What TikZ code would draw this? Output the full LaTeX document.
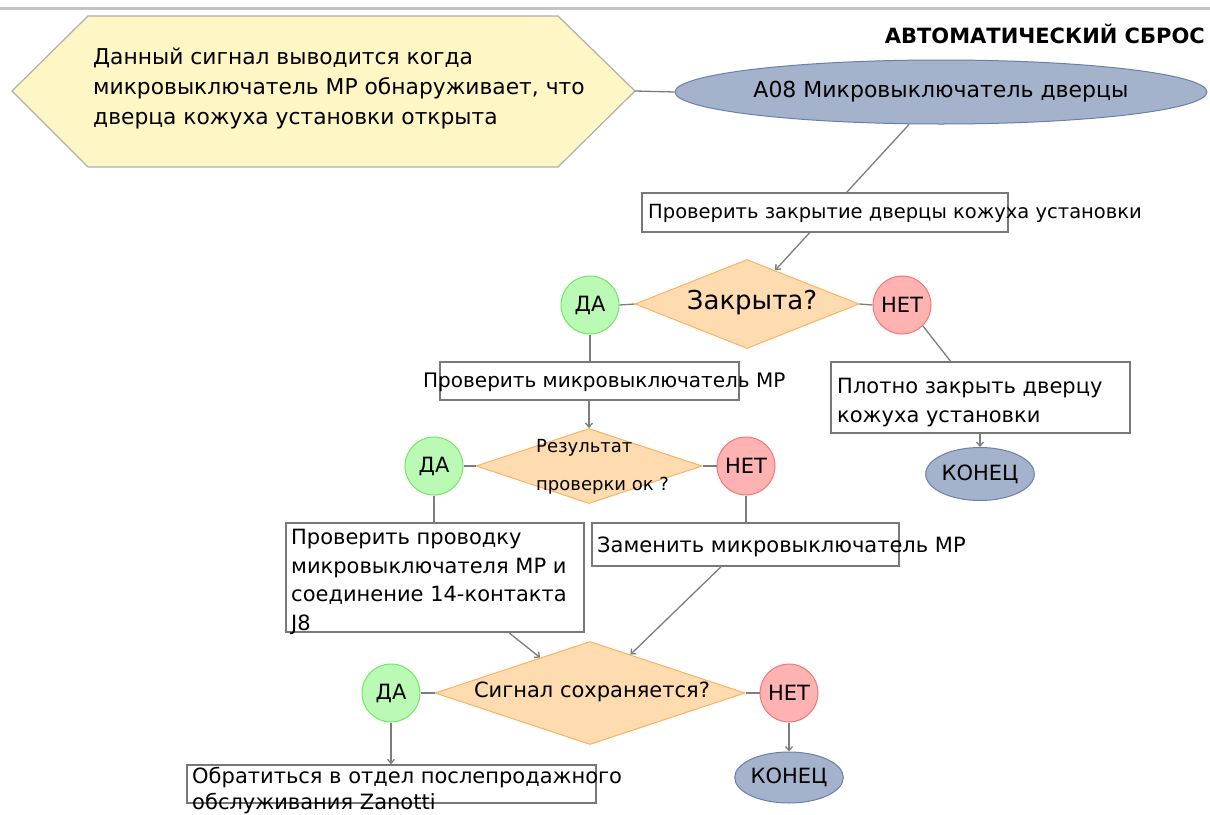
\documentclass[tikz,border=0pt]{standalone}
\usepackage{fontspec}
\setmainfont{DejaVu Sans}
\usetikzlibrary{shapes.geometric,arrows.meta,calc}
\definecolor{hexfill}{RGB}{254,246,196}
\definecolor{hexline}{RGB}{175,175,175}
\definecolor{ellfill}{RGB}{164,178,204}
\definecolor{ellline}{RGB}{105,128,170}
\definecolor{diafill}{RGB}{254,220,176}
\definecolor{dialine}{RGB}{250,178,98}
\definecolor{yesfill}{RGB}{186,250,180}
\definecolor{yesline}{RGB}{110,232,100}
\definecolor{nofill}{RGB}{254,178,178}
\definecolor{noline}{RGB}{242,118,118}
\definecolor{conn}{RGB}{125,125,125}
\definecolor{boxline}{RGB}{120,120,120}
\definecolor{topline}{RGB}{195,195,195}
\begin{document}
\begin{tikzpicture}[x=1pt,y=-1pt,
  txt/.style={font=\fontsize{21}{29.5}\selectfont, inner sep=0pt, align=left},
  boxnode/.style={rectangle, draw=boxline, line width=1.6pt, fill=white, inner sep=0pt},
  decision/.style={diamond, draw=dialine, fill=diafill, line width=1pt, inner sep=0pt},
  yesnode/.style={circle, draw=yesline, fill=yesfill, line width=1pt, minimum size=58pt, inner sep=0pt, font=\fontsize{21}{25}\selectfont},
  nonode/.style={circle, draw=noline, fill=nofill, line width=1pt, minimum size=58pt, inner sep=0pt, font=\fontsize{21}{25}\selectfont},
  term/.style={ellipse, draw=ellline, fill=ellfill, line width=1pt, inner sep=0pt, font=\fontsize{21}{25}\selectfont},
  conline/.style={draw=conn, line width=1.3pt},
  arr/.style={conline, -{Straight Barb[length=4pt,width=7pt]}}
]
\useasboundingbox (0,0) rectangle (1210,814);
\fill[white] (0,0) rectangle (1210,814);
\draw[topline, line width=3pt] (0,8) -- (1210,8);

% title
\node[inner sep=0pt, anchor=east, font=\bfseries\fontsize{21}{25}\selectfont] (title) at (1205,34) {АВТОМАТИЧЕСКИЙ СБРОС};

% hexagon description
\draw[draw=hexline, fill=hexfill, line width=1.2pt] (12,91) -- (88,16) -- (558,16) -- (635,91) -- (558,167) -- (88,167) -- cycle;
\coordinate (hexR) at (635,91);
\node[txt, anchor=west, font=\fontsize{21.8}{30}\selectfont] (hextext) at (93,88) {Данный сигнал выводится когда\\микровыключатель МР обнаруживает, что\\дверца кожуха установки открыта};

% start
\node[term, minimum width=532pt, minimum height=64pt, font=\fontsize{22}{25}\selectfont] (start) at (941,92) {А08 Микровыключатель дверцы};
\draw[conline] (hexR) -- (start.west);

% decision 1
\node[decision, minimum width=224pt, minimum height=89pt] (d1) at (747,304) {};
\node[inner sep=0pt, font=\fontsize{26}{30}\selectfont] (d1t) at (752,303) {Закрыта?};
\draw[arr] ([xshift=-32pt]start.south) -- ($(d1.north)!0.25!(d1.east)$);

% box 1 (drawn over the connector)
\node[boxnode, minimum width=366pt, minimum height=39pt] (b1) at (825,212.5) {};
\node[txt, anchor=west, font=\fontsize{19.5}{25}\selectfont] (t1) at (648,213) {Проверить закрытие дверцы кожуха установки};

\node[yesnode] (y1) at (590,305) {ДА};
\node[nonode] (n1) at (902,305) {НЕТ};
\draw[conline] (y1.east) -- (d1.west);
\draw[conline] (d1.east) -- (n1.west);

% box 2
\node[boxnode, minimum width=299pt, minimum height=38pt] (b2) at (589.5,381) {};
\node[txt, anchor=west, font=\fontsize{20}{25}\selectfont] (t2) at (423,382) {Проверить микровыключатель МР};
\draw[conline] (y1.south) -- (y1.south |- b2.north);

% box 3
\node[boxnode, minimum width=299pt, minimum height=71pt] (b3) at (980.5,397.5) {};
\node[txt, anchor=west, font=\fontsize{21}{29}\selectfont] (t3) at (837,403) {Плотно закрыть дверцу\\кожуха установки};
\draw[conline] (n1.south east) -- ([xshift=-30pt]b3.north);
\node[term, minimum width=106pt, minimum height=53pt] (k1) at (980,474) {КОНЕЦ};
\draw[arr] (b3.south -| k1.north) -- (k1.north);

% decision 2
\node[decision, minimum width=226pt, minimum height=75pt] (d2) at (589,466) {};
\node[txt, anchor=west, font=\fontsize{18}{38}\selectfont] (d2t) at (536,467) {Результат\\проверки ок ?};
\draw[arr] (b2.south -| d2.north) -- (d2.north);
\node[yesnode] (y2) at (434,466) {ДА};
\node[nonode] (n2) at (746,466) {НЕТ};
\draw[conline] (y2.east) -- (d2.west);
\draw[conline] (d2.east) -- (n2.west);

% box 4
\node[boxnode, minimum width=298pt, minimum height=109pt] (b4) at (435,577.5) {};
\node[txt, anchor=west, font=\fontsize{21}{28.5}\selectfont] (t4) at (291,582) {Проверить проводку\\микровыключателя МР и\\соединение 14-контакта\\J8};
\draw[conline] (y2.south) -- (y2.south |- b4.north);

% box 5
\node[boxnode, minimum width=307pt, minimum height=43pt] (b5) at (745.5,544.5) {};
\node[txt, anchor=west] (t5) at (597,547) {Заменить микровыключатель МР};
\draw[conline] (n2.south) -- (n2.south |- b5.north);

% decision 3
\node[decision, minimum width=310pt, minimum height=103pt] (d3) at (590,693) {};
\node[inner sep=0pt, font=\fontsize{21}{25}\selectfont] (d3t) at (592,692) {Сигнал сохраняется?};
\draw[arr] ([xshift=74pt]b4.south) -- ($(d3.north)!0.32!(d3.west)$);
\draw[arr] ([xshift=-24.5pt]b5.south) -- ($(d3.north)!0.26!(d3.east)$);
\node[yesnode] (y3) at (391,693) {ДА};
\node[nonode] (n3) at (789,693) {НЕТ};
\draw[conline] (y3.east) -- (d3.west);
\draw[conline] (d3.east) -- (n3.west);

% box 6
\node[boxnode, minimum width=409pt, minimum height=38pt] (b6) at (391.5,784) {};
\node[txt, anchor=west, font=\fontsize{21}{26}\selectfont] (t6) at (192,791) {Обратиться в отдел послепродажного\\обслуживания Zanotti};
\draw[arr] (y3.south) -- (y3.south |- b6.north);

\node[term, minimum width=105pt, minimum height=51pt] (k2) at (789,777.5) {КОНЕЦ};
\draw[arr] (n3.south) -- (n3.south |- k2.north);
\end{tikzpicture}
\end{document}
